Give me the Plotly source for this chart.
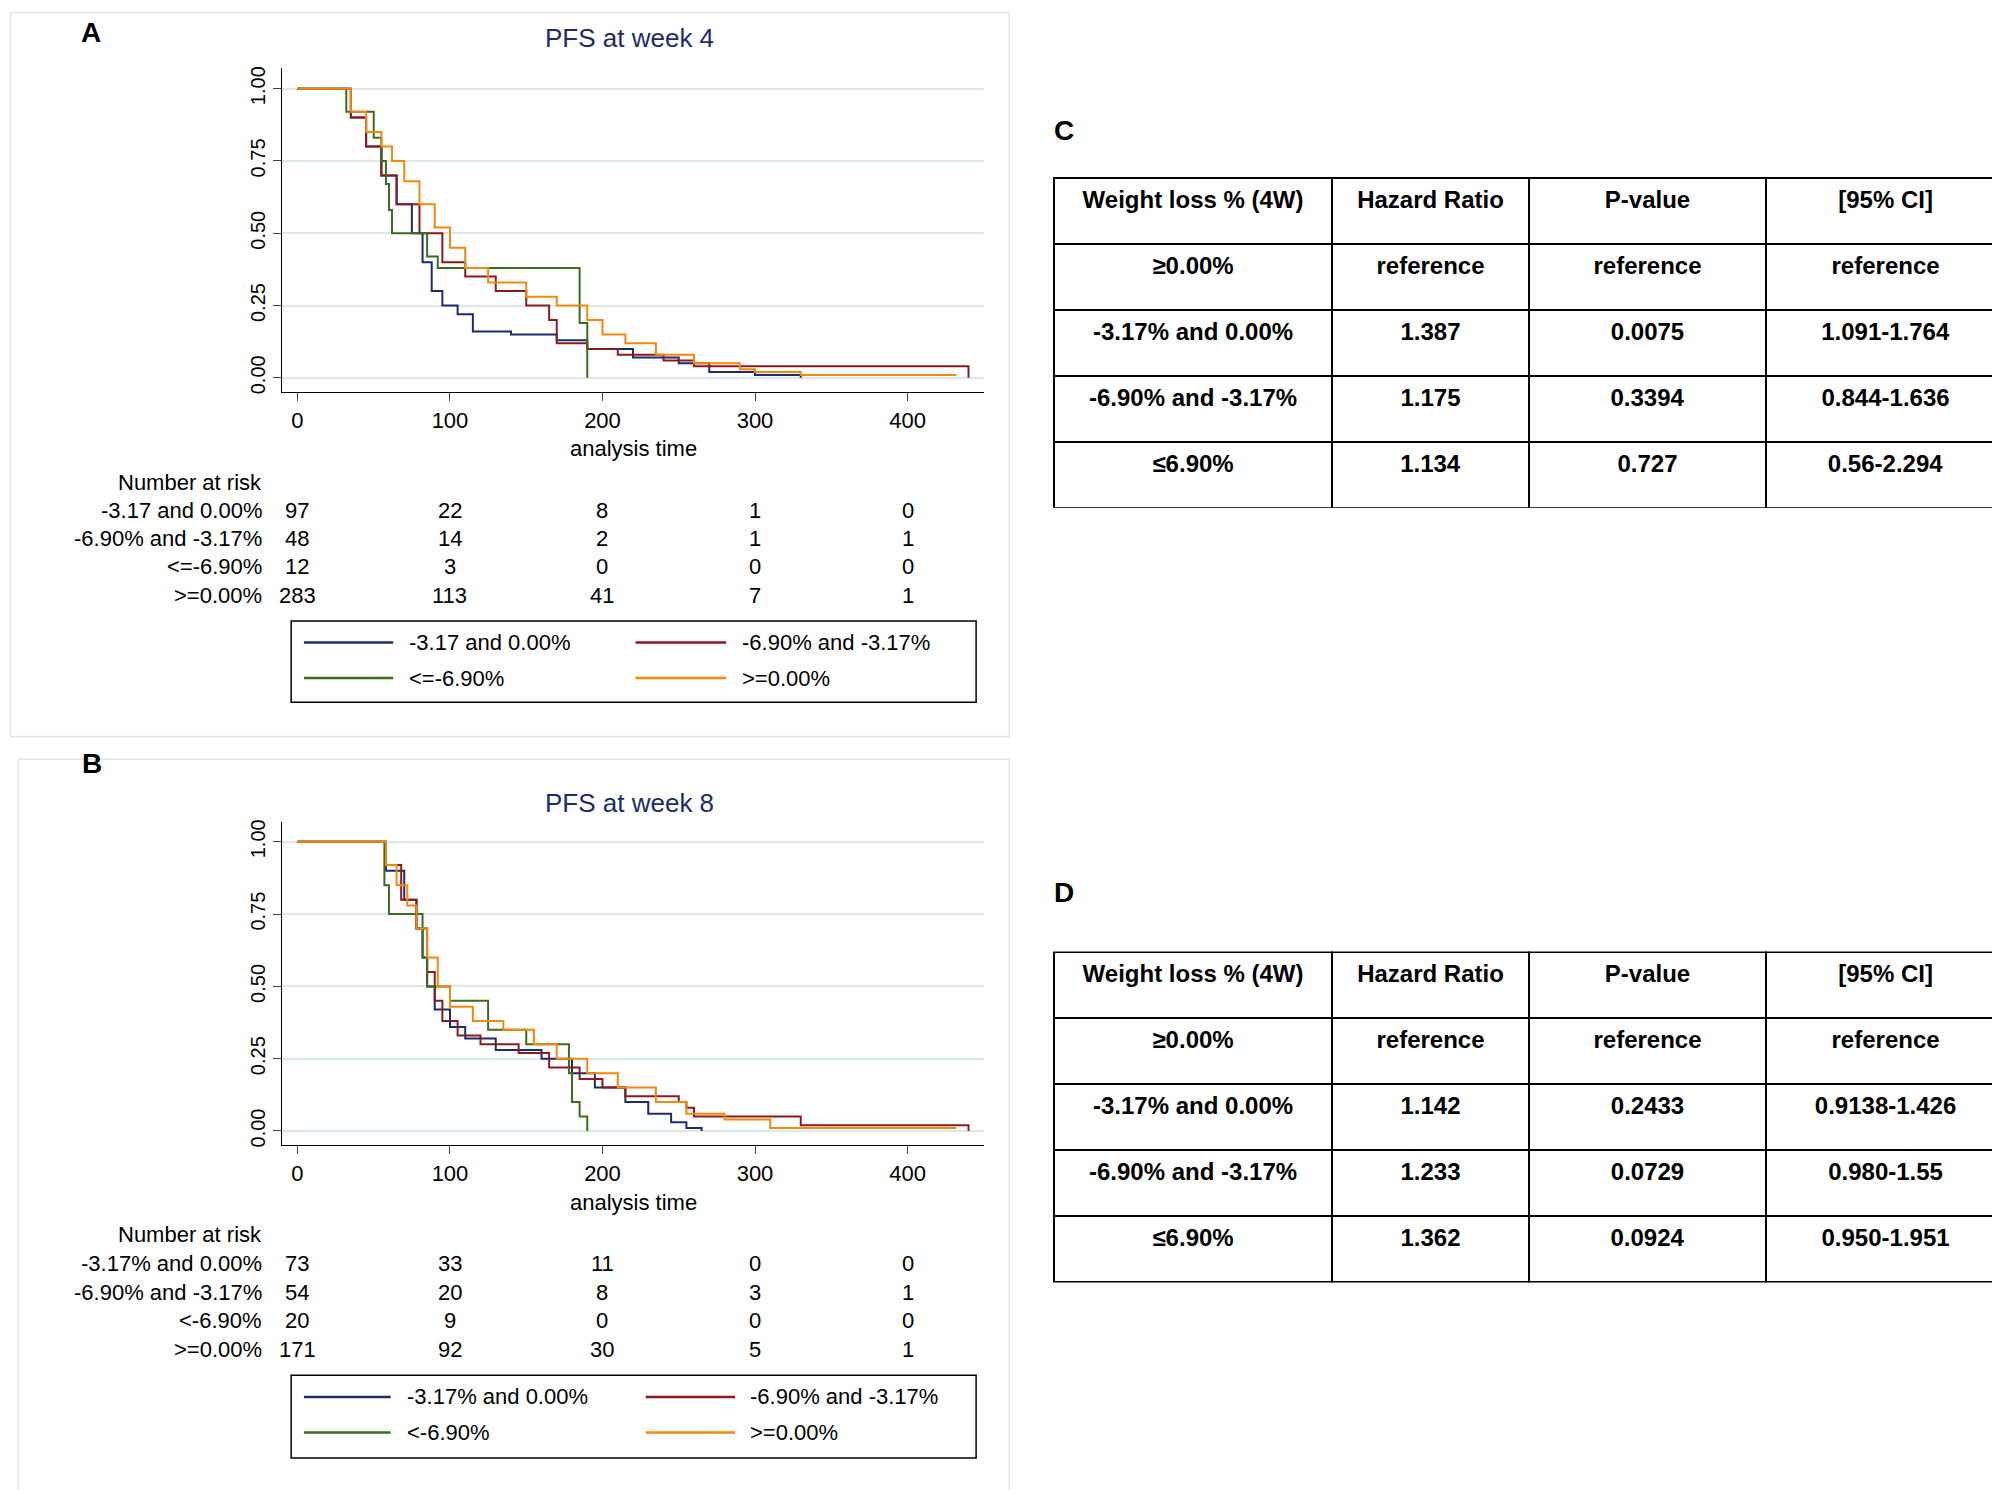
import plotly.graph_objects as go

W, H = 2000, 1490
def px(x): return x / 1568
def py(y): return 1 - y / 1170

NAVY, MAROON, GREEN, ORANGE = "#1c2a6e", "#8b1a1f", "#3a6e1e", "#f5870a"

# ---- KM data (time, survival) ----
a_blue_t = [0, 30, 35, 45, 55, 65, 75, 82, 88, 95, 105, 115, 140, 170, 190, 220, 250, 270, 300, 330]
a_blue_s = [1, 1, 0.9, 0.8, 0.7, 0.6, 0.5, 0.4, 0.3, 0.25, 0.22, 0.16, 0.15, 0.13, 0.1, 0.07, 0.05, 0.02, 0.01, 0.0]
a_red_t = [0, 30, 35, 45, 55, 65, 80, 95, 110, 130, 150, 165, 170, 190, 210, 240, 260, 440, 440]
a_red_s = [1, 1, 0.9, 0.8, 0.7, 0.6, 0.5, 0.4, 0.35, 0.3, 0.25, 0.2, 0.12, 0.1, 0.08, 0.06, 0.04, 0.04, 0.0]
a_green_t = [0, 30, 32, 50, 55, 58, 60, 62, 85, 92, 185, 190]
a_green_s = [1, 1, 0.92, 0.83, 0.75, 0.67, 0.58, 0.5, 0.42, 0.38, 0.19, 0.0]
a_orange_t = [0, 30, 35, 45, 55, 62, 70, 80, 90, 100, 110, 125, 150, 170, 190, 200, 215, 235, 260, 290, 300, 330, 432]
a_orange_s = [1, 1, 0.92, 0.85, 0.8, 0.75, 0.68, 0.6, 0.52, 0.45, 0.38, 0.33, 0.28, 0.25, 0.2, 0.15, 0.12, 0.08, 0.05, 0.03, 0.02, 0.01, 0.01]

b_blue_t = [0, 55, 58, 70, 78, 82, 85, 90, 100, 110, 130, 160, 180, 195, 215, 230, 245, 255, 265]
b_blue_s = [1, 1, 0.9, 0.8, 0.7, 0.6, 0.5, 0.42, 0.36, 0.32, 0.28, 0.25, 0.2, 0.15, 0.1, 0.06, 0.03, 0.01, 0.0]
b_red_t = [0, 55, 58, 68, 78, 85, 90, 95, 105, 120, 145, 165, 185, 200, 215, 250, 255, 260, 330, 440, 440]
b_red_s = [1, 1, 0.92, 0.8, 0.7, 0.55, 0.45, 0.38, 0.33, 0.3, 0.27, 0.22, 0.18, 0.15, 0.12, 0.1, 0.08, 0.05, 0.02, 0.02, 0.0]
b_green_t = [0, 55, 57, 60, 82, 85, 100, 125, 150, 178, 180, 185, 190]
b_green_s = [1, 1, 0.85, 0.75, 0.6, 0.5, 0.45, 0.35, 0.3, 0.2, 0.1, 0.05, 0.0]
b_orange_t = [0, 55, 58, 65, 72, 78, 85, 92, 100, 115, 135, 155, 170, 190, 210, 235, 255, 280, 310, 432]
b_orange_s = [1, 1, 0.92, 0.85, 0.78, 0.7, 0.6, 0.5, 0.43, 0.38, 0.35, 0.3, 0.25, 0.2, 0.15, 0.1, 0.06, 0.04, 0.01, 0.01]

risk_times = [0, 100, 200, 300, 400]
a_risk_labels = ["-3.17 and 0.00%", "-6.90% and -3.17%", "<=-6.90%", ">=0.00%"]
a_risk = [[97, 22, 8, 1, 0], [48, 14, 2, 1, 1], [12, 3, 0, 0, 0], [283, 113, 41, 7, 1]]
b_risk_labels = ["-3.17% and 0.00%", "-6.90% and -3.17%", "<-6.90%", ">=0.00%"]
b_risk = [[73, 33, 11, 0, 0], [54, 20, 8, 3, 1], [20, 9, 0, 0, 0], [171, 92, 30, 5, 1]]
a_legend = ["-3.17 and 0.00%", "-6.90% and -3.17%", "<=-6.90%", ">=0.00%"]
b_legend = ["-3.17% and 0.00%", "-6.90% and -3.17%", "<-6.90%", ">=0.00%"]

tbl_header = ["Weight loss % (4W)", "Hazard Ratio", "P-value", "[95% CI]"]
tbl_groups = ["≥0.00%", "-3.17% and 0.00%", "-6.90% and -3.17%", "≤6.90%"]
c_hr = ["reference", "1.387", "1.175", "1.134"]
c_p = ["reference", "0.0075", "0.3394", "0.727"]
c_ci = ["reference", "1.091-1.764", "0.844-1.636", "0.56-2.294"]
d_hr = ["reference", "1.142", "1.233", "1.362"]
d_p = ["reference", "0.2433", "0.0729", "0.0924"]
d_ci = ["reference", "0.9138-1.426", "0.980-1.55", "0.950-1.951"]

fig = go.Figure()
FONT = "Liberation Sans"
colors = [NAVY, MAROON, GREEN, ORANGE]
ann, shapes = [], []

def A(text, x, y, xref="paper", xanchor="center", size=22, color="black"):
    ann.append(dict(text=text, x=x, y=y, xref=xref, yref="paper", xanchor=xanchor,
                    yanchor="middle", showarrow=False,
                    font=dict(size=size, family=FONT, color=color)))

def km(xa, ya, curves):
    for (t, s), c in zip(curves, colors):
        fig.add_trace(go.Scatter(x=t, y=s, mode="lines", line=dict(color=c, width=2, shape="hv"),
                                 xaxis=xa, yaxis=ya, showlegend=False, hoverinfo="skip"))

km("x", "y", [(a_blue_t, a_blue_s), (a_red_t, a_red_s), (a_green_t, a_green_s), (a_orange_t, a_orange_s)])
km("x2", "y2", [(b_blue_t, b_blue_s), (b_red_t, b_red_s), (b_green_t, b_green_s), (b_orange_t, b_orange_s)])

axcommon = dict(range=[-10, 450], tickvals=[0, 100, 200, 300, 400], showgrid=False, zeroline=False,
                showline=True, linecolor="black", ticks="outside", ticklen=8,
                tickfont=dict(size=22, family=FONT, color="black"), domain=[px(215), px(765)])
aycommon = dict(range=[-0.05, 1.07], tickvals=[0, 0.25, 0.5, 0.75, 1.0],
                ticktext=["0.00", "0.25", "0.50", "0.75", "1.00"], tickangle=-90,
                showgrid=True, gridcolor="#dde8ea", gridwidth=2, zeroline=False,
                showline=True, linecolor="black", ticks="outside", ticklen=8,
                tickfont=dict(size=20, family=FONT, color="black"))
fig.update_layout(
    xaxis=dict(**axcommon, anchor="y"),
    yaxis=dict(**aycommon, domain=[py(301), py(46)], anchor="x"),
    xaxis2=dict(**axcommon, anchor="y2"),
    yaxis2=dict(**aycommon, domain=[py(894), py(639)], anchor="x2"),
)

def panel_text(title, ty, xlab_y, risk_y, labels, risk, legend, leg_box, leg_cols, xref):
    A(title, px(487), py(ty), size=26, color="#1c2a6e")
    A("analysis time", px(490), py(xlab_y))
    A("Number at risk", px(201), py(risk_y[0]), xanchor="right")
    for i, (lab, row) in enumerate(zip(labels, risk)):
        yy = py(risk_y[i + 1])
        A(lab, px(201), yy, xanchor="right")
        for t, v in zip(risk_times, row):
            A(str(v), t, yy, xref=xref)
    x0, y0, x1, y1 = leg_box
    shapes.append(dict(type="rect", x0=px(x0), x1=px(x1), y0=py(y1), y1=py(y0), xref="paper",
                       yref="paper", line=dict(color="black", width=1.5)))
    for i, (lab, c) in enumerate(zip(legend, colors)):
        col, row = i % 2, i // 2
        lx0, lx1, tx = leg_cols[col]
        yy = py(leg_box[1] + 17 + row * 28)
        shapes.append(dict(type="line", x0=px(lx0), x1=px(lx1), y0=yy, y1=yy, xref="paper",
                           yref="paper", line=dict(color=c, width=2.5)))
        A(lab, px(tx), yy, xanchor="left")

panel_text("PFS at week 4", 22, 345, [372, 394, 416, 438, 461], a_risk_labels, a_risk, a_legend,
           (222, 481, 759, 545), [(232, 302, 313), (492, 563, 574)], "x")
panel_text("PFS at week 8", 624, 939, [964, 987, 1010, 1032, 1055], b_risk_labels, b_risk, b_legend,
           (222, 1075, 759, 1140), [(232, 300, 311), (500, 570, 580)], "x2")

for (x0, y0, x1, y1) in [(2, 2, 785, 572), (8, 590, 785, 1166)]:
    shapes.append(dict(type="rect", x0=px(x0), x1=px(x1), y0=py(y1), y1=py(y0), xref="paper",
                       yref="paper", line=dict(color="#e4e4e4", width=1.5)))
for lab, x, y in [("A", 65, 18), ("B", 66, 593), ("C", 828, 95), ("D", 828, 695)]:
    A("<b>" + lab + "</b>", px(x), py(y), size=28)

def table(hr, p, ci, y0, y1):
    fig.add_trace(go.Table(
        domain=dict(x=[px(820), px(1566)], y=[py(y1), py(y0)]),
        columnwidth=[218, 154, 186, 187],
        header=dict(values=["<b>%s</b>" % h for h in tbl_header], height=66, align="center",
                    line=dict(color="black", width=2), fill=dict(color="white"),
                    font=dict(size=24, family=FONT, color="black")),
        cells=dict(values=[["<b>%s</b>" % v for v in col] for col in [tbl_groups, hr, p, ci]],
                   height=66, align="center", line=dict(color="black", width=2),
                   fill=dict(color="white"), font=dict(size=24, family=FONT, color="black"))))

table(c_hr, c_p, c_ci, 132, 392)
table(d_hr, d_p, d_ci, 742, 1002)

fig.update_layout(width=W, height=H, margin=dict(l=0, r=0, t=0, b=0), plot_bgcolor="white",
                  paper_bgcolor="white", annotations=ann, shapes=shapes, showlegend=False)
fig.write_html("out.html")
